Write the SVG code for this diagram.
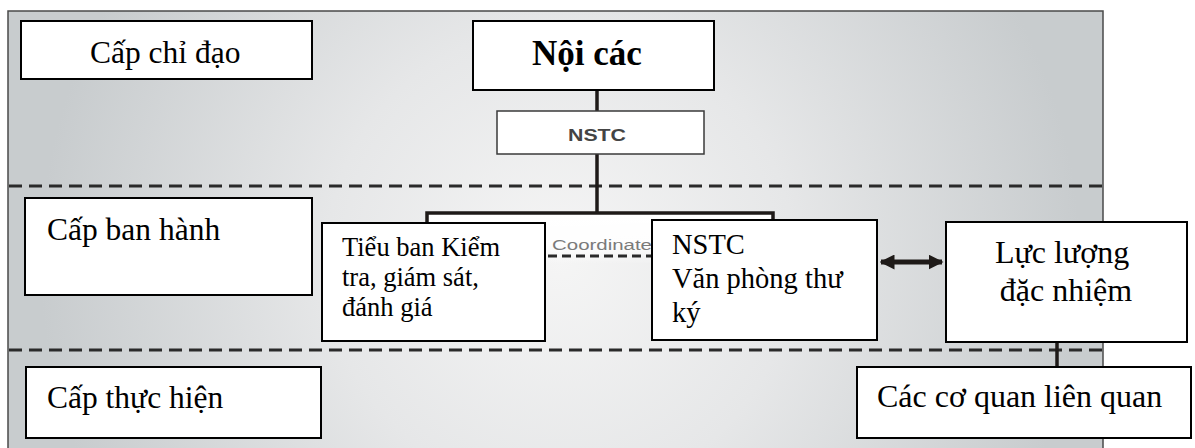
<svg xmlns="http://www.w3.org/2000/svg" width="1195" height="448" viewBox="0 0 1195 448">
  <style>
    .box { fill: #ffffff; stroke: #000000; stroke-width: 2; }
    .serif { font-family: "Liberation Serif", "Times New Roman", serif; fill: #000000; }
    .divider { fill: none; stroke: #2a2a2a; stroke-width: 3; stroke-dasharray: 13 7; }
    .link { fill: none; stroke: #1e1a18; stroke-width: 3.5; }
  </style>
  <defs>
    <radialGradient id="panelShade" cx="560" cy="260" r="520" gradientUnits="userSpaceOnUse">
      <stop offset="0" stop-color="#f5f5f5"/>
      <stop offset="0.45" stop-color="#e6e7e8"/>
      <stop offset="1" stop-color="#c8ccce"/>
    </radialGradient>
    <linearGradient id="coordFade" x1="0" y1="213" x2="0" y2="264" gradientUnits="userSpaceOnUse">
      <stop offset="0" stop-color="#ffffff" stop-opacity="1"/>
      <stop offset="0.6" stop-color="#ffffff" stop-opacity="0.9"/>
      <stop offset="1" stop-color="#ffffff" stop-opacity="0"/>
    </linearGradient>
    <marker id="head" viewBox="0 0 10 10" refX="9" refY="5" markerWidth="3" markerHeight="3" orient="auto-start-reverse">
      <path d="M0,0 L10,5 L0,10 z" fill="#1e1a18"/>
    </marker>
    <clipPath id="clipSub">
      <rect x="322" y="223" width="223" height="118"/>
    </clipPath>
  </defs>

  <!-- shaded backdrop -->
  <rect x="8" y="11" width="1095" height="450" fill="url(#panelShade)" stroke="#4a4a4a" stroke-width="1.5"/>

  <!-- level dividers -->
  <g id="dividers">
    <line class="divider" x1="9" y1="186" x2="1102" y2="186"/>
    <line class="divider" x1="9" y1="350" x2="1102" y2="350"/>
  </g>

  <!-- connectors -->
  <g id="connectors">
    <line class="link" x1="597" y1="90" x2="597" y2="111"/>
    <line class="link" x1="597" y1="154" x2="597" y2="214"/>
    <!-- coordination frame -->
    <rect x="427" y="213" width="346" height="51" fill="url(#coordFade)"/>
    <path class="link" d="M427,224 L427,213 L773,213 L773,222"/>
    <text x="552" y="250" font-family="'Liberation Sans', Arial, sans-serif" font-size="14" fill="#7a7a7a" textLength="100" lengthAdjust="spacingAndGlyphs">Coordinate</text>
    <line x1="548" y1="256" x2="652" y2="256" stroke="#2a2a2a" stroke-width="3" stroke-dasharray="9 5"/>
    <!-- two-way link -->
    <line x1="881" y1="262" x2="942" y2="262" stroke="#1e1a18" stroke-width="5" marker-start="url(#head)" marker-end="url(#head)"/>
    <line class="link" x1="1057" y1="342" x2="1057" y2="367"/>
  </g>

  <g id="level-direct">
    <rect class="box" x="21" y="21" width="291" height="58"/>
    <text class="serif" x="90" y="63" font-size="31.5">Cấp chỉ đạo</text>
  </g>

  <g id="cabinet">
    <rect class="box" x="473" y="21" width="241" height="69" stroke-width="2.5"/>
    <text class="serif" x="587" y="65" font-size="35" font-weight="bold" text-anchor="middle">Nội các</text>
  </g>

  <g id="nstc">
    <rect x="497" y="111" width="207" height="43" fill="#ffffff" stroke="#3a3a3a" stroke-width="1.5"/>
    <text x="597" y="141" font-family="'Liberation Sans', Arial, sans-serif" font-size="16" font-weight="bold" fill="#444444" text-anchor="middle" textLength="58" lengthAdjust="spacingAndGlyphs">NSTC</text>
  </g>

  <g id="level-issue">
    <rect class="box" x="25" y="198" width="287" height="97"/>
    <text class="serif" x="47" y="240" font-size="31.5">Cấp ban hành</text>
  </g>

  <g id="subcommittee">
    <rect class="box" x="322" y="223" width="223" height="118"/>
    <text class="serif" font-size="26.5" clip-path="url(#clipSub)">
      <tspan x="342" y="256">Tiểu ban Kiểm</tspan>
      <tspan x="342" y="286">tra, giám sát,</tspan>
      <tspan x="342" y="316">đánh giá</tspan>
    </text>
  </g>

  <g id="secretariat">
    <rect class="box" x="652" y="220" width="225" height="120"/>
    <text class="serif" font-size="28.5">
      <tspan x="672" y="254">NSTC</tspan>
      <tspan x="672" y="288">Văn phòng thư</tspan>
      <tspan x="672" y="322">ký</tspan>
    </text>
  </g>

  <g id="task-force">
    <rect class="box" x="946" y="222" width="241" height="120"/>
    <text class="serif" font-size="32" text-anchor="middle">
      <tspan x="1066" y="263">Lực lượng</tspan>
      <tspan x="1066" y="301">đặc nhiệm</tspan>
    </text>
  </g>

  <g id="level-execute">
    <rect class="box" x="26" y="367" width="295" height="71"/>
    <text class="serif" x="47" y="408" font-size="31.5">Cấp thực hiện</text>
  </g>

  <g id="agencies">
    <rect class="box" x="857" y="367" width="334" height="71"/>
    <text class="serif" x="877" y="407" font-size="32">Các cơ quan liên quan</text>
  </g>
</svg>
